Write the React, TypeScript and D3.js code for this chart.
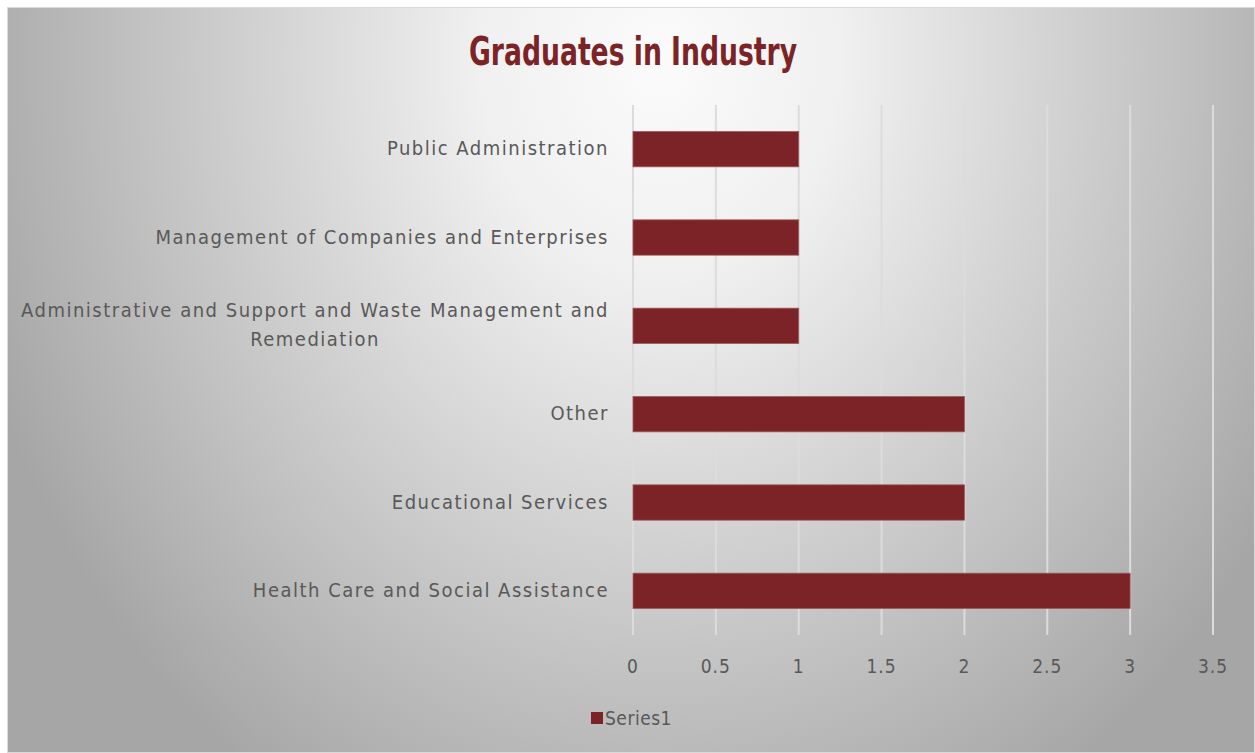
import { useEffect, useRef } from "react";
import * as d3 from "d3";

const categories = [
	"Public Administration",
	"Management of Companies and Enterprises",
	"Administrative and Support and Waste Management and|Remediation",
	"Other",
	"Educational Services",
	"Health Care and Social Assistance",
];
const values = [1, 1, 1, 2, 2, 3];
const xTicks = [0, 0.5, 1, 1.5, 2, 2.5, 3, 3.5];
const seriesName = "Series1";
const title = "Graduates in Industry";

const W = 1255;
const H = 753;
const RED = "#7b2326";
const LABEL = "#595959";
const FONT = "'DejaVu Sans Condensed', 'DejaVu Sans', sans-serif";

export default function App() {
	const svgRef = useRef<SVGSVGElement>(null);

	useEffect(() => {
		if (!svgRef.current) return;
		const svg = d3.select(svgRef.current);
		svg.selectAll("*").remove();

		const defs = svg.append("defs");
		const grad = defs
			.append("radialGradient")
			.attr("id", "bg")
			.attr("gradientUnits", "userSpaceOnUse")
			.attr("cx", 660)
			.attr("cy", 60)
			.attr("r", 720)
			.attr("gradientTransform", "translate(660,60) scale(1,1.2) translate(-660,-60)");
		grad.append("stop").attr("offset", 0).attr("stop-color", "#fbfbfb");
		grad.append("stop").attr("offset", 0.25).attr("stop-color", "#f0f0f0");
		grad.append("stop").attr("offset", 1).attr("stop-color", "#a6a6a6");

		svg.append("rect")
			.attr("x", 7.5)
			.attr("y", 7.5)
			.attr("width", W - 8)
			.attr("height", H - 8)
			.attr("fill", "url(#bg)")
			.attr("stroke", "#d9d9d9")
			.attr("stroke-width", 1);

		const x = d3.scaleLinear().domain([0, 3.5]).range([633, 1213]);
		const y = d3
			.scaleBand<string>()
			.domain(categories)
			.range([105, 635])
			.paddingInner(0.6)
			.paddingOuter(0.3);

		// gridlines
		svg.append("g")
			.selectAll("line")
			.data(xTicks)
			.join("line")
			.attr("x1", (d) => x(d))
			.attr("x2", (d) => x(d))
			.attr("y1", 105)
			.attr("y2", 635)
			.attr("stroke", "#dcdcdc")
			.attr("stroke-width", 2);

		// bars
		svg.append("g")
			.selectAll("rect")
			.data(categories)
			.join("rect")
			.attr("x", x(0))
			.attr("y", (d) => y(d)!)
			.attr("width", (d, i) => x(values[i]) - x(0))
			.attr("height", y.bandwidth())
			.attr("fill", RED)
			.attr("stroke", "#a05a5c")
			.attr("stroke-width", 0.8);

		// x tick labels
		svg.append("g")
			.selectAll("text")
			.data(xTicks)
			.join("text")
			.attr("x", (d) => x(d))
			.attr("y", 673)
			.attr("text-anchor", "middle")
			.attr("font-family", FONT)
			.attr("font-size", 19)
			.attr("letter-spacing", 1)
			.attr("fill", LABEL)
			.text((d) => String(d));

		// category labels: block right-aligned at 609, lines centred within it
		const lab = svg.append("g")
			.selectAll("text")
			.data(categories)
			.join("text")
			.attr("text-anchor", "middle")
			.attr("font-family", FONT)
			.attr("font-size", 20)
			.attr("letter-spacing", 1.5)
			.attr("fill", LABEL);

		lab.each(function (d) {
			const t = d3.select(this);
			const lines = d.split("|");
			const cy = y(d)! + y.bandwidth() / 2;
			const lh = 29;
			const y0 = cy - ((lines.length - 1) * lh) / 2 + 6;
			const spans = lines.map((l, k) =>
				t.append("tspan").attr("x", 0).attr("y", y0 + k * lh).text(l)
			);
			const widest = d3.max(spans, (s) => (s.node() as SVGTSpanElement).getComputedTextLength()) ?? 0;
			spans.forEach((s) => s.attr("x", 609 - widest / 2));
		});

		// legend
		svg.append("rect")
			.attr("x", 591)
			.attr("y", 712)
			.attr("width", 12)
			.attr("height", 12)
			.attr("fill", RED);
		svg.append("text")
			.attr("x", 605)
			.attr("y", 725)
			.attr("font-family", FONT)
			.attr("font-size", 19)
			.attr("letter-spacing", 0.5)
			.attr("fill", LABEL)
			.text(seriesName);

		// title
		svg.append("text")
			.attr("x", 633)
			.attr("y", 65)
			.attr("text-anchor", "middle")
			.attr("font-family", "'Liberation Sans Narrow', 'DejaVu Sans Condensed', sans-serif")
			.attr("font-weight", "bold")
			.attr("font-size", 39)
			.attr("textLength", 328)
			.attr("lengthAdjust", "spacingAndGlyphs")
			.attr("fill", RED)
			.text(title);
	}, []);

	return (
		<svg
			ref={svgRef}
			width={W}
			height={H}
			style={{ position: "absolute", left: 0, top: 0 }}
		/>
	);
}
